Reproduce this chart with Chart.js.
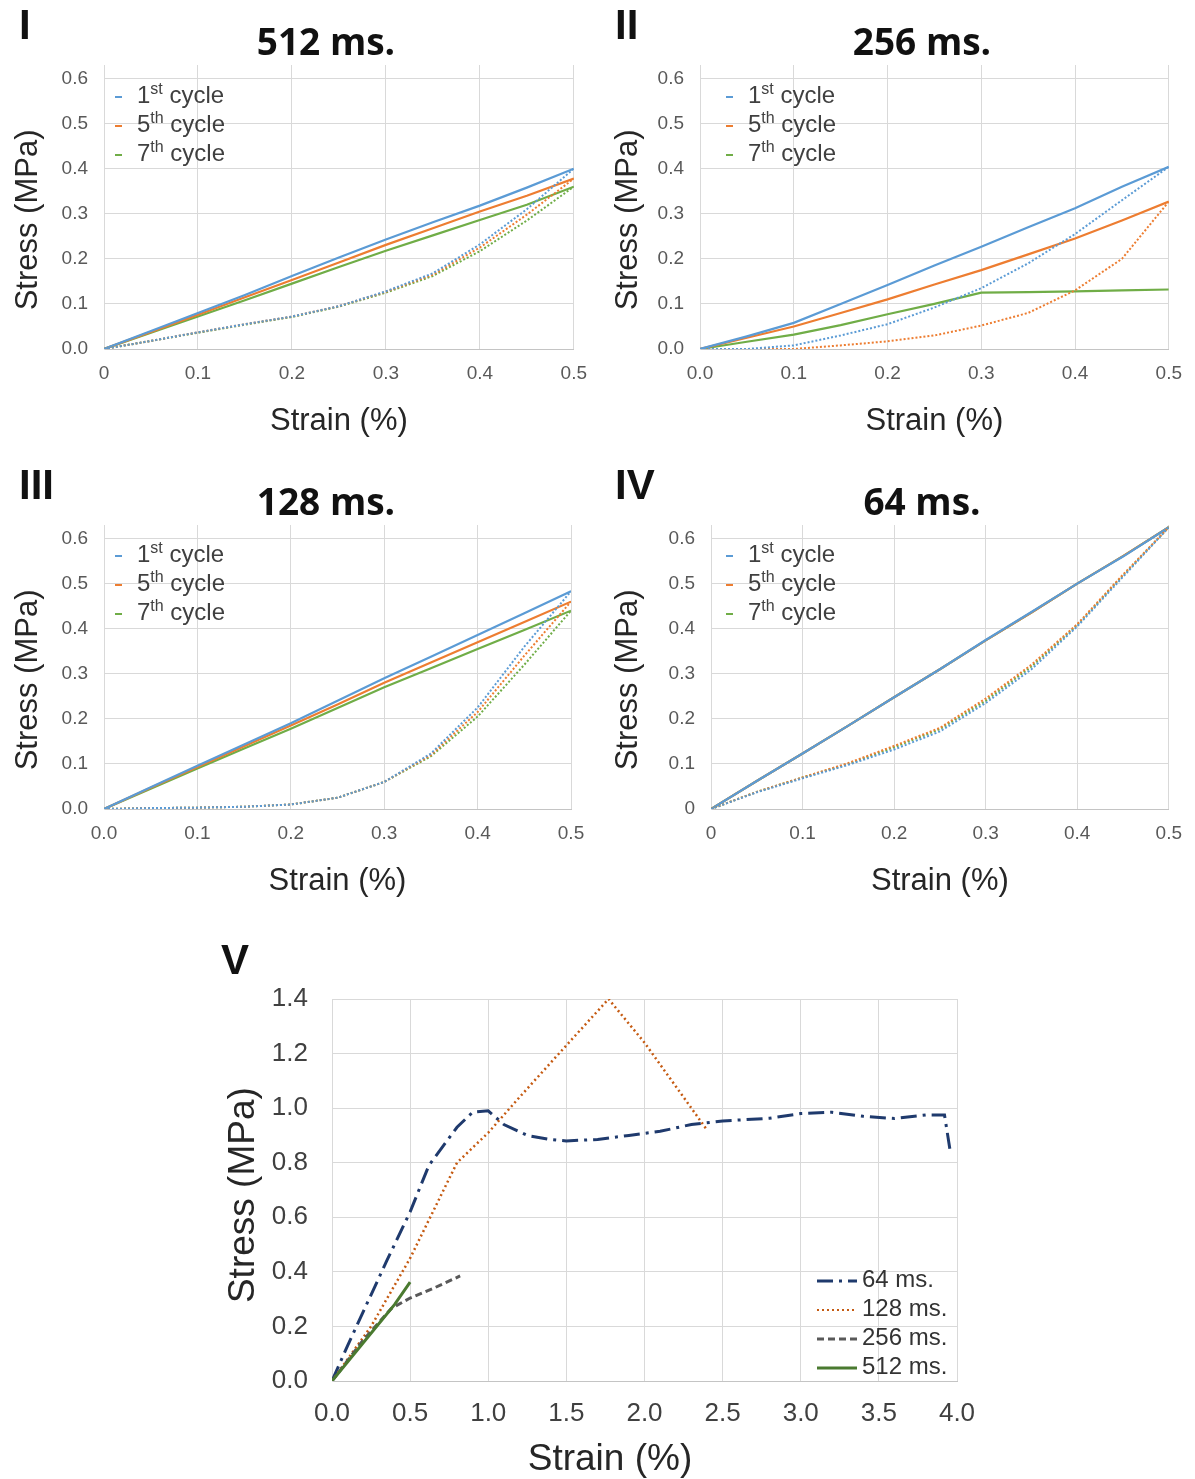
<!DOCTYPE html>
<html>
<head>
<meta charset="utf-8">
<title>Cyclic stress-strain</title>
<script src="https://cdn.jsdelivr.net/npm/chart.js@4.4.1/dist/chart.umd.min.js"></script>
<style>
  body { margin: 0; background: #fff; }
  #page { position: relative; width: 1195px; height: 1479px; overflow: hidden; font-family: 'Liberation Sans', Arial, sans-serif; }
  canvas { position: absolute; }
  .lbl { position: absolute; font-weight: bold; font-size: 42px; line-height: 1; color: #111; }
  .ttl { position: absolute; width: 300px; text-align: center; font-family: 'Open Sans', sans-serif; font-weight: 700; font-size: 37px; line-height: 1; color: #111; }
  .leg { position: absolute; font-size: 24px; line-height: 29px; color: #404040; white-space: nowrap; }
  .leg .ln { display: inline-block; width: 7px; height: 2px; vertical-align: middle; margin-right: 15px; }
  .leg sup { font-size: 16px; vertical-align: 9px; line-height: 0; }
  .vleg { position: absolute; font-size: 24px; line-height: 29px; color: #333; white-space: nowrap; }
  .vleg svg { vertical-align: middle; margin-right: 4px; }
  .xt { position: absolute; width: 300px; text-align: center; font-size: 37px; line-height: 1; color: #262626; }
</style>
</head>
<body>
<div id="page">
  <canvas id="p1" width="600" height="450" style="left:0;top:0"></canvas>
  <canvas id="p2" width="595" height="450" style="left:600px;top:0"></canvas>
  <canvas id="p3" width="600" height="450" style="left:0;top:460px"></canvas>
  <canvas id="p4" width="595" height="450" style="left:600px;top:460px"></canvas>
  <canvas id="p5" width="800" height="539" style="left:200px;top:940px"></canvas>

  <div class="lbl" style="left:19px;top:4px">I</div>
  <div class="lbl" style="left:615px;top:4px">II</div>
  <div class="lbl" style="left:19px;top:464px">III</div>
  <div class="lbl" style="left:615px;top:464px">IV</div>
  <div class="lbl" style="left:221px;top:939px">V</div>

  <div class="ttl" style="left:176px;top:22px">512 ms.</div>
  <div class="ttl" style="left:772px;top:22px">256 ms.</div>
  <div class="ttl" style="left:176px;top:482px">128 ms.</div>
  <div class="ttl" style="left:772px;top:482px">64 ms.</div>

  <div class="leg" id="leg1" style="left:115px;top:80px"></div>
  <div class="leg" id="leg2" style="left:726px;top:80px"></div>
  <div class="leg" id="leg3" style="left:115px;top:539px"></div>
  <div class="leg" id="leg4" style="left:726px;top:539px"></div>
  <div class="vleg" id="leg5" style="left:816px;top:1264px"></div>
  <div class="xt" style="left:460px;top:1439px">Strain (%)</div>
</div>

<script>
// strain sampling used by the four cycle panels
const strainSteps = [0, 0.05, 0.1, 0.15, 0.2, 0.25, 0.3, 0.35, 0.4, 0.45, 0.5];

const cycleNums = ['1', '5', '7'];
const cycleSups = ['st', 'th', 'th'];
const cycleColors = ['#5B9BD5', '#ED7D31', '#70AD47'];

// I - 512 ms (loading / unloading per cycle)
const load512_c1 = [0, 0.04, 0.08, 0.12, 0.162, 0.203, 0.243, 0.281, 0.318, 0.358, 0.40];
const load512_c5 = [0, 0.038, 0.076, 0.115, 0.153, 0.192, 0.231, 0.268, 0.305, 0.34, 0.378];
const load512_c7 = [0, 0.036, 0.072, 0.108, 0.145, 0.182, 0.218, 0.252, 0.286, 0.32, 0.36];
const unl512_c1 = [0, 0.018, 0.037, 0.055, 0.072, 0.095, 0.128, 0.168, 0.232, 0.31, 0.40];
const unl512_c5 = [0, 0.018, 0.037, 0.055, 0.072, 0.095, 0.127, 0.165, 0.225, 0.298, 0.378];
const unl512_c7 = [0, 0.018, 0.036, 0.054, 0.071, 0.094, 0.125, 0.162, 0.217, 0.285, 0.36];

// II - 256 ms
const load256_c1 = [0, 0.028, 0.058, 0.1, 0.142, 0.185, 0.227, 0.27, 0.312, 0.36, 0.404];
const load256_c5 = [0, 0.025, 0.05, 0.08, 0.11, 0.143, 0.175, 0.21, 0.245, 0.285, 0.327];
const load256_c7 = [0, 0.016, 0.032, 0.053, 0.077, 0.1, 0.125, 0.126, 0.128, 0.13, 0.132];
const unl256_c1 = [0, 0, 0.008, 0.03, 0.055, 0.092, 0.135, 0.19, 0.255, 0.33, 0.404];
const unl256_c5 = [0, 0, 0, 0.008, 0.017, 0.03, 0.052, 0.08, 0.13, 0.2, 0.327];

// III - 128 ms
const load128_c1 = [0, 0.048, 0.096, 0.143, 0.19, 0.24, 0.29, 0.338, 0.386, 0.434, 0.483];
const load128_c5 = [0, 0.047, 0.093, 0.139, 0.185, 0.232, 0.28, 0.325, 0.37, 0.415, 0.46];
const load128_c7 = [0, 0.045, 0.09, 0.134, 0.178, 0.224, 0.27, 0.312, 0.355, 0.397, 0.44];
const unl128_c1 = [0, 0.002, 0.003, 0.005, 0.01, 0.025, 0.06, 0.123, 0.225, 0.36, 0.483];
const unl128_c5 = [0, 0.002, 0.003, 0.005, 0.01, 0.025, 0.06, 0.12, 0.215, 0.34, 0.46];
const unl128_c7 = [0, 0.002, 0.003, 0.005, 0.01, 0.025, 0.06, 0.117, 0.205, 0.32, 0.44];

// IV - 64 ms
const load64_c1 = [0, 0.062, 0.123, 0.185, 0.248, 0.31, 0.375, 0.437, 0.5, 0.56, 0.625];
const load64_c5 = [0, 0.062, 0.123, 0.185, 0.248, 0.31, 0.374, 0.436, 0.5, 0.561, 0.625];
const load64_c7 = [0, 0.062, 0.123, 0.185, 0.248, 0.31, 0.374, 0.436, 0.5, 0.561, 0.625];
const unl64_c1 = [0, 0.037, 0.068, 0.098, 0.132, 0.172, 0.235, 0.31, 0.405, 0.515, 0.625];
const unl64_c5 = [0, 0.038, 0.07, 0.102, 0.14, 0.18, 0.245, 0.32, 0.41, 0.52, 0.625];
const unl64_c7 = [0, 0.038, 0.07, 0.1, 0.137, 0.177, 0.24, 0.316, 0.408, 0.518, 0.625];

// V - failure curves
const v64Strain = [0, 0.1, 0.35, 0.5, 0.62, 0.8, 0.9, 1.0, 1.1, 1.25, 1.4, 1.5, 1.7, 1.9, 2.1, 2.3, 2.5, 2.8, 3.0, 3.2, 3.4, 3.6, 3.8, 3.92, 3.96];
const v64Stress = [0, 0.13, 0.44, 0.62, 0.79, 0.93, 0.985, 0.99, 0.94, 0.9, 0.885, 0.88, 0.885, 0.9, 0.915, 0.94, 0.953, 0.963, 0.98, 0.985, 0.97, 0.962, 0.975, 0.975, 0.83];
const v128Strain = [0, 0.25, 0.5, 0.8, 1.0, 1.2, 1.5, 1.77, 2.0, 2.2, 2.4];
const v128Stress = [0, 0.2, 0.45, 0.8, 0.91, 1.04, 1.23, 1.4, 1.24, 1.08, 0.92];
const v256Strain = [0, 0.2, 0.38, 0.5, 0.65, 0.82];
const v256Stress = [0, 0.15, 0.266, 0.304, 0.34, 0.385];
const v512Strain = [0, 0.2, 0.4, 0.5];
const v512Stress = [0, 0.14, 0.28, 0.362];
const vLabels = ['64 ms.', '128 ms.', '256 ms.', '512 ms.'];
const vColors = ['#1F3A6D', '#C55A11', '#595959', '#4A7A30'];
const vDashes = [[16, 6, 3, 6], [2, 3], [7, 4], []];

// tick labels
const xTicksPlain = ['0', '0.1', '0.2', '0.3', '0.4', '0.5'];
const xTicksDec = ['0.0', '0.1', '0.2', '0.3', '0.4', '0.5'];
const yTicksDec = ['0.0', '0.1', '0.2', '0.3', '0.4', '0.5', '0.6'];
const yTicksPlain = ['0', '0.1', '0.2', '0.3', '0.4', '0.5', '0.6'];
const vXTicks = ['0.0', '0.5', '1.0', '1.5', '2.0', '2.5', '3.0', '3.5', '4.0'];
const vYTicks = ['0.0', '0.2', '0.4', '0.6', '0.8', '1.0', '1.2', '1.4'];

function pts(xs, ys) {
    return ys.map(function (y, k) { return { x: xs[k], y: y }; });
}

function cycleLegend(id) {
    var html = '';
    for (var i = 0; i < cycleNums.length; i++) {
        html += '<div><span class="ln" style="background:' + cycleColors[i] + '"></span>' +
            cycleNums[i] + '<sup>' + cycleSups[i] + '</sup> cycle</div>';
    }
    document.getElementById(id).innerHTML = html;
}

function smallPanel(id, loads, unloads, xLabels, yLabels, yWidth, padRight) {
    var sets = [];
    unloads.forEach(function (u, i) {
        if (!u) return;
        sets.push({ label: cycleNums[i] + cycleSups[i] + ' cycle', data: pts(strainSteps, u),
            borderColor: cycleColors[i], borderWidth: 2, borderDash: [2, 2], pointRadius: 0 });
    });
    loads.forEach(function (l, i) {
        sets.push({ label: cycleNums[i] + cycleSups[i] + ' cycle', data: pts(strainSteps, l),
            borderColor: cycleColors[i], borderWidth: 2.2, pointRadius: 0 });
    });
    var tickFont = { size: 19, family: "'Liberation Sans', Arial" };
    var titleFont = { size: 31, family: "'Liberation Sans', Arial" };
    return new Chart(document.getElementById(id), {
        type: 'line',
        data: { datasets: sets },
        options: {
            responsive: false,
            animation: false,
            layout: { padding: { top: 65, right: padRight, bottom: 1, left: 0 } },
            plugins: { legend: { display: false }, tooltip: { enabled: false } },
            scales: {
                x: {
                    type: 'linear', min: 0, max: 0.5,
                    ticks: { stepSize: 0.1, padding: 13, color: '#595959', font: tickFont, maxRotation: 0, autoSkip: false,
                        callback: function (v, i) { return xLabels[i]; } },
                    grid: { color: '#d9d9d9', drawTicks: false },
                    border: { color: '#c4c4c4' },
                    title: { display: true, text: 'Strain (%)', color: '#262626', font: titleFont, padding: { top: 0, bottom: 9 } },
                    afterFit: function (s) { s.height = 100; }
                },
                y: {
                    type: 'linear', min: 0, max: 0.63,
                    ticks: { stepSize: 0.1, includeBounds: false, padding: 16, color: '#595959', font: tickFont,
                        callback: function (v, i) { return yLabels[i]; } },
                    afterBuildTicks: function (s) { s.ticks = s.ticks.filter(function (t) { return t.value < 0.605; }); },
                    grid: { color: '#d9d9d9', drawTicks: false },
                    border: { color: '#d9d9d9' },
                    // trailing spaces push the rotated title a little below the plot centre, as in the original
                    title: { display: true, text: 'Stress (MPa)   ', color: '#262626', font: titleFont, padding: { top: 10, bottom: 0 } },
                    afterFit: function (s) { s.width = yWidth; }
                }
            }
        }
    });
}

smallPanel('p1', [load512_c1, load512_c5, load512_c7], [unl512_c1, unl512_c5, unl512_c7], xTicksPlain, yTicksDec, 104, 24);
smallPanel('p2', [load256_c1, load256_c5, load256_c7], [unl256_c1, unl256_c5, null], xTicksDec, yTicksDec, 100, 23);
smallPanel('p3', [load128_c1, load128_c5, load128_c7], [unl128_c1, unl128_c5, unl128_c7], xTicksDec, yTicksDec, 104, 29);
smallPanel('p4', [load64_c1, load64_c5, load64_c7], [unl64_c1, unl64_c5, unl64_c7], xTicksPlain, yTicksPlain, 111, 23);
['leg1', 'leg2', 'leg3', 'leg4'].forEach(cycleLegend);

// panel V
var vStrains = [v64Strain, v128Strain, v256Strain, v512Strain];
var vStresses = [v64Stress, v128Stress, v256Stress, v512Stress];
var vSets = vLabels.map(function (lab, i) {
    return { label: lab, data: pts(vStrains[i], vStresses[i]), borderColor: vColors[i],
        borderWidth: i === 1 ? 2.5 : 3, borderDash: vDashes[i], pointRadius: 0, order: 4 - i };
});
var vTickFont = { size: 26, family: "'Liberation Sans', Arial" };
new Chart(document.getElementById('p5'), {
    type: 'line',
    data: { datasets: vSets },
    options: {
        responsive: false,
        animation: false,
        layout: { padding: { top: 59, right: 43, bottom: 1, left: 0 } },
        plugins: { legend: { display: false }, tooltip: { enabled: false } },
        scales: {
            x: {
                type: 'linear', min: 0, max: 4,
                ticks: { stepSize: 0.5, padding: 17, color: '#404040', font: vTickFont, maxRotation: 0, autoSkip: false,
                    callback: function (v, i) { return vXTicks[i]; } },
                grid: { color: '#d9d9d9', drawTicks: false },
                border: { color: '#c4c4c4' },
                afterFit: function (s) { s.height = 97; }
            },
            y: {
                type: 'linear', min: 0, max: 1.4,
                ticks: { stepSize: 0.2, padding: 24, color: '#404040', font: vTickFont,
                    callback: function (v, i) { return vYTicks[i]; } },
                grid: { color: '#d9d9d9', drawTicks: false },
                border: { color: '#d9d9d9' },
                title: { display: true, text: 'Stress (MPa) ', color: '#262626', font: { size: 37, family: "'Liberation Sans', Arial" }, padding: { top: 22, bottom: 0 } },
                afterFit: function (s) { s.width = 132; }
            }
        }
    }
});

// legend for V with the same dash patterns
var vHtml = '';
vLabels.forEach(function (lab, i) {
    vHtml += '<div><svg width="42" height="10"><line x1="1" y1="5" x2="41" y2="5" stroke="' + vColors[i] +
        '" stroke-width="' + (i === 1 ? 2 : 3) + '" stroke-dasharray="' + (vDashes[i].length ? vDashes[i].join(' ') : 'none') +
        '"/></svg>' + lab + '</div>';
});
document.getElementById('leg5').innerHTML = vHtml;
</script>
</body>
</html>
